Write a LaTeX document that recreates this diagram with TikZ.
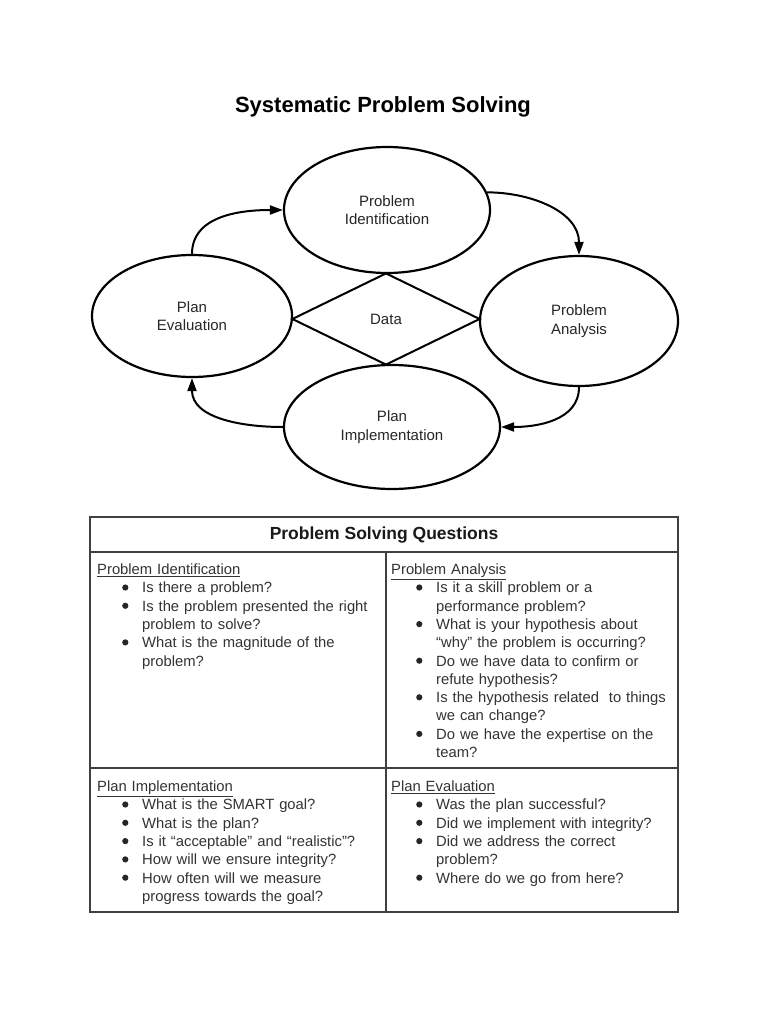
\documentclass[tikz,border=0pt]{standalone}
\usepackage{fontspec}
\setmainfont{Liberation Sans}
\usetikzlibrary{shapes.geometric, arrows.meta, positioning, calc}

\setlength{\parskip}{0pt}
\newcommand{\dotmark}{\tikz[baseline=0pt]\fill[black!85] (0,5.3pt) circle (3.1pt);}
\newcommand{\head}[1]{\par\noindent\underline{#1}\par}
\newcommand{\ask}[1]{\par\hangindent=45pt\hangafter=0\noindent\llap{\makebox[20pt][l]{\dotmark}}#1\par}

\begin{document}
\begin{tikzpicture}[
        x=1pt, y=1pt,
        stage/.style={ellipse, draw=black, line width=2.2pt, inner sep=0pt, align=center, text=black!85, font=\fontsize{15pt}{18.3pt}\selectfont},
        hub/.style={diamond, draw=black, line width=2pt, inner sep=0pt, text=black!85, font=\fontsize{15pt}{18.3pt}\selectfont},
        flow/.style={-{Triangle[length=13pt, width=9pt]}, line width=2pt, draw=black},
        grid/.style={draw=black!75, line width=1.4pt},
        cell/.style={anchor=north west, inner sep=0pt, text width=285pt, align=left, text=black!80, font=\fontsize{14.8pt}{18.3pt}\selectfont},
        hdr/.style={font=\fontsize{17.5pt}{20pt}\selectfont\bfseries, text=black!90, inner sep=0pt}
    ]
        \fill[white] (0,0) rectangle (768,-1024);
        \useasboundingbox (0,0) rectangle (768,-1024);
        \node[font=\fontsize{22pt}{26pt}\selectfont\bfseries, inner sep=0pt] (title) at (383,-107) {Systematic Problem Solving};
        \node[stage, minimum width=206pt, minimum height=126pt] (pi) at (387,-210) {Problem\\Identification};
        \node[stage, minimum width=198pt, minimum height=130pt] (pa) at (579,-321) {Problem\\Analysis};
        \node[stage, minimum width=216pt, minimum height=124pt] (pimp) at (392,-427) {Plan\\Implementation};
        \node[stage, minimum width=200pt, minimum height=122pt] (pe) at (192,-316) {Plan\\Evaluation};
        \node[hub, minimum width=188pt, minimum height=92pt] (data) at (386,-319) {Data};
        \draw[flow] (pe.north) to[out=90, in=180] (pi.west);
        \draw[flow] (pi.10) to[out=0, in=90] (pa.north);
        \draw[flow] (pa.south) to[out=-90, in=0] (pimp.east);
        \draw[flow] (pimp.west) to[out=180, in=-90] (pe.south);
        \draw[grid] (90,-517) rectangle (678,-912);
        \draw[grid] (90,-552) -- (678,-552);
        \draw[grid] (90,-768) -- (678,-768);
        \draw[grid] (386,-552) -- (386,-912);
        \node[hdr] (qtitle) at (384,-535) {Problem Solving Questions};
        \node[cell] (qpi) at (97,-556) {\head{Problem Identification}
            \ask{Is there a problem?}
            \ask{Is the problem presented the right\newline problem to solve?}
            \ask{What is the magnitude of the\newline problem?}};
        \node[cell] (qpa) at (391,-556) {\head{Problem Analysis}
            \ask{Is it a skill problem or a\newline performance problem?}
            \ask{What is your hypothesis about\newline “why” the problem is occurring?}
            \ask{Do we have data to confirm or\newline refute hypothesis?}
            \ask{Is the hypothesis related~ to things\newline we can change?}
            \ask{Do we have the expertise on the\newline team?}};
        \node[cell] (qimp) at (97,-773) {\head{Plan Implementation}
            \ask{What is the SMART goal?}
            \ask{What is the plan?}
            \ask{Is it “acceptable” and “realistic”?}
            \ask{How will we ensure integrity?}
            \ask{How often will we measure\newline progress towards the goal?}};
        \node[cell] (qeval) at (391,-773) {\head{Plan Evaluation}
            \ask{Was the plan successful?}
            \ask{Did we implement with integrity?}
            \ask{Did we address the correct\newline problem?}
            \ask{Where do we go from here?}};
    \end{tikzpicture}
\end{document}
